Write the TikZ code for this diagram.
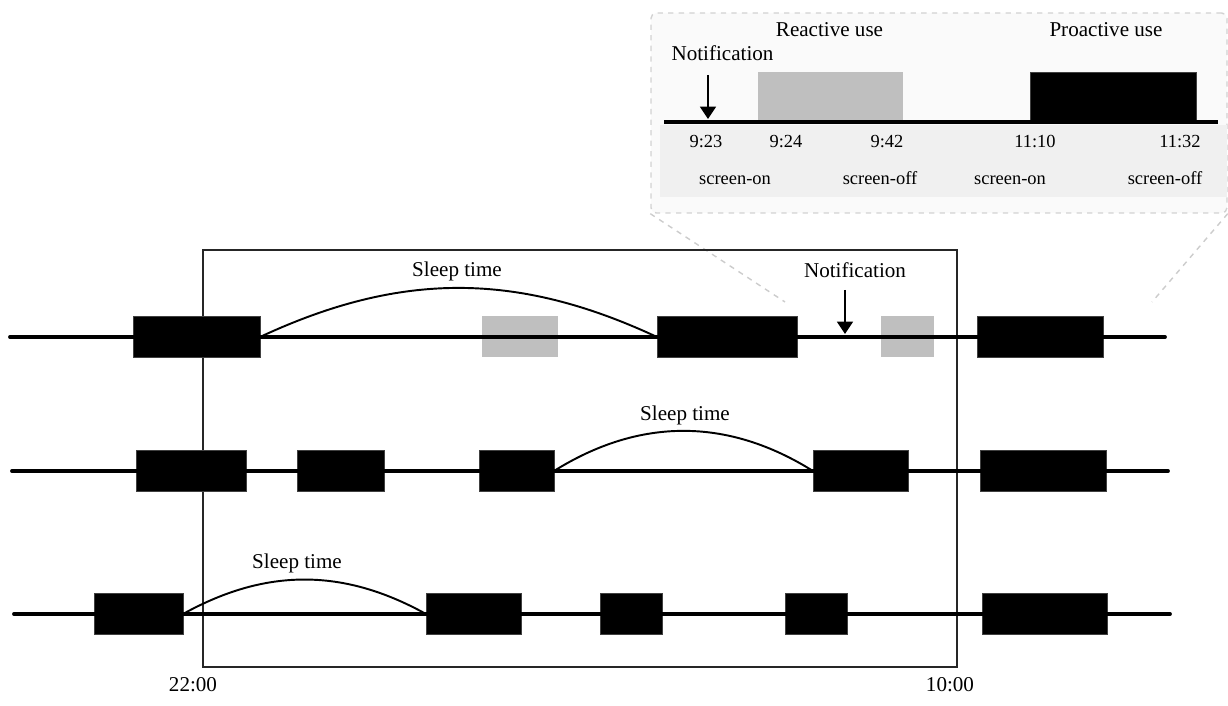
\documentclass[tikz,border=0pt]{standalone}
\usepackage{fontspec}
\setmainfont{Liberation Serif}
\usetikzlibrary{arrows.meta}

\begin{document}
\begin{tikzpicture}[
    usage/.style={rectangle, fill=black, draw=black!75, outer sep=0pt, inner sep=0pt, minimum height=0.82cm},
    reactive/.style={usage, fill=gray!50, draw=none},
    timeline/.style={line width=2.2pt, line cap=round},
    sleep/.style={line width=1.1pt},
    frame/.style={rectangle, draw, line width=1.1pt, black!85, inner sep=0pt},
    notif/.style={-{Triangle[width=9pt,length=7pt]}, line width=1.1pt},
    zoomline/.style={dashed, gray!40, line width=0.8pt},
    label/.style={font=\fontsize{12}{14}\selectfont, text height=1.6ex, text depth=0.4ex},
    small/.style={font=\fontsize{10.5}{12}\selectfont, text height=1.6ex, text depth=0.4ex}
]
\useasboundingbox (0,0) rectangle (24.56,14.12);

% ===== INSET: one day zoomed in =====
\node[rectangle, draw=gray!35, dashed, fill=gray!4, rounded corners=3pt, line width=0.8pt,
      minimum width=11.52cm, minimum height=4.0cm] (zoombox) at (18.78,11.86) {};
\node[rectangle, fill=gray!12, minimum width=11.34cm, minimum height=1.44cm] (band) at (18.87,10.9) {};

\node[reactive, minimum width=2.9cm, minimum height=0.96cm] (i_react) at (16.61,12.2) {};
\node[usage, minimum width=3.32cm, minimum height=0.96cm] (i_pro) at (22.26,12.2) {};
\coordinate (i_start) at (13.28,11.68);
\coordinate (i_end) at (24.36,11.68);
\draw[timeline, line cap=butt] (i_start) -- (i_end);

\node[label] (i_note) at (14.45,13.0) {Notification};
\coordinate (i_top) at (14.16,12.62);
\coordinate (i_tip) at (14.16,11.74);
\draw[notif] (i_top) -- (i_tip);

\node[label] (reactlbl) at (16.59,13.48) {Reactive use};
\node[label] (prolbl) at (22.12,13.48) {Proactive use};

% times and events
\node[small] (t923) at (14.12,11.26) {9:23};
\node[small] (t924) at (15.72,11.26) {9:24};
\node[small] (t942) at (17.74,11.26) {9:42};
\node[small] (t1110) at (20.7,11.26) {11:10};
\node[small] (t1132) at (23.6,11.26) {11:32};
\node[small] (on1) at (14.7,10.52) {screen-on};
\node[small] (off1) at (17.6,10.52) {screen-off};
\node[small] (on2) at (20.2,10.52) {screen-on};
\node[small] (off2) at (23.3,10.52) {screen-off};

% zoom lines
\coordinate (z_left) at (15.7,8.08);
\coordinate (z_right) at (23.04,8.08);
\draw[zoomline] (zoombox.south west) -- (z_left);
\draw[zoomline] (zoombox.south east) -- (z_right);

% ===== NIGHT WINDOW =====
\node[frame, minimum width=15.08cm, minimum height=8.34cm] (window) at (11.6,4.95) {};
\node[label] (night) at (3.86,0.38) {22:00};
\node[label] (morning) at (19.0,0.38) {10:00};

% ===== TIMELINE 1 =====
\node[usage, minimum width=2.54cm] (a1) at (3.93,7.38) {};
\node[reactive, minimum width=1.52cm] (a2) at (10.4,7.38) {};
\node[usage, minimum width=2.8cm] (a3) at (14.54,7.38) {};
\node[reactive, minimum width=1.06cm] (a4) at (18.15,7.38) {};
\node[usage, minimum width=2.52cm] (a5) at (20.8,7.38) {};
\coordinate (a_start) at (0.2,7.38);
\coordinate (a_end) at (23.3,7.38);
\draw[timeline] (a_start) -- (a_end);
\draw[sleep] (a1.east) to[out=25, in=155] (a3.west);
\node[label] (a_sleep) at (9.14,8.68) {Sleep time};

\node[label] (a_note) at (17.1,8.66) {Notification};
\coordinate (a_top) at (16.9,8.32);
\coordinate (a_tip) at (16.9,7.44);
\draw[notif] (a_top) -- (a_tip);

% ===== TIMELINE 2 =====
\node[usage, minimum width=2.2cm] (b1) at (3.82,4.7) {};
\node[usage, minimum width=1.74cm] (b2) at (6.81,4.7) {};
\node[usage, minimum width=1.5cm] (b3) at (10.33,4.7) {};
\node[usage, minimum width=1.9cm] (b4) at (17.21,4.7) {};
\node[usage, minimum width=2.52cm] (b5) at (20.86,4.7) {};
\coordinate (b_start) at (0.24,4.7);
\coordinate (b_end) at (23.36,4.7);
\draw[timeline] (b_start) -- (b_end);
\draw[sleep] (b3.east) to[out=32, in=148] (b4.west);
\node[label] (b_sleep) at (13.7,5.8) {Sleep time};

% ===== TIMELINE 3 =====
\node[usage, minimum width=1.78cm] (c1) at (2.77,1.84) {};
\node[usage, minimum width=1.9cm] (c2) at (9.47,1.84) {};
\node[usage, minimum width=1.24cm] (c3) at (12.62,1.84) {};
\node[usage, minimum width=1.24cm] (c4) at (16.32,1.84) {};
\node[usage, minimum width=2.5cm] (c5) at (20.89,1.84) {};
\coordinate (c_start) at (0.28,1.84);
\coordinate (c_end) at (23.4,1.84);
\draw[timeline] (c_start) -- (c_end);
\draw[sleep] (c1.east) to[out=29, in=151] (c2.west);
\node[label] (c_sleep) at (5.94,2.84) {Sleep time};

\end{tikzpicture}
\end{document}
